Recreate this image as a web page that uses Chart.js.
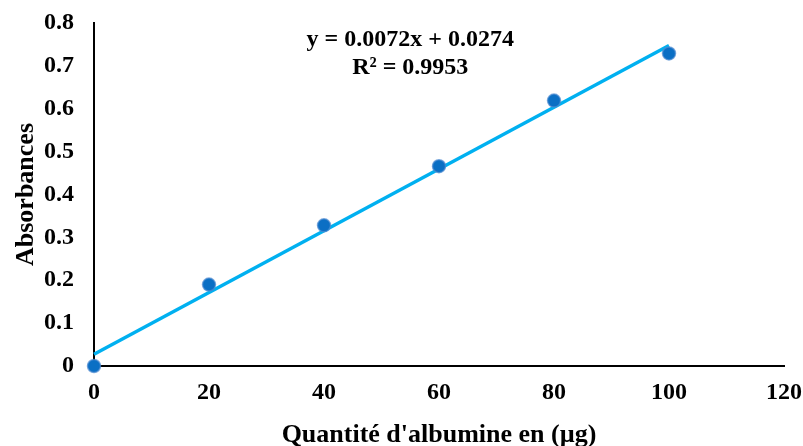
<!DOCTYPE html>
<html>
<head>
<meta charset="utf-8">
<script src="https://cdn.jsdelivr.net/npm/chart.js@4"></script>
<style>
  html, body { margin: 0; padding: 0; background: #fff; }
</style>
</head>
<body>
<canvas id="chart" width="803" height="446"></canvas>
<script>
// values
const quantites = [0, 20, 40, 60, 80, 100]
const absorbances = [0, 0.19, 0.328, 0.466, 0.619, 0.729]

// trendline ends, from the equation printed on the chart
const trend_x = [0, 100]
const trend_y = [0.0274, 0.7474]

const equation_lines = ['y = 0.0072x + 0.0274', 'R² = 0.9953']

const font_family = '"Liberation Serif", "Times New Roman", serif'

const points = quantites.map((q, i) => ({x: q, y: absorbances[i]}))
const trend_points = trend_x.map((q, i) => ({x: q, y: trend_y[i]}))

const equationLabel = {
    id: 'equationLabel',
    afterDraw(chart) {
        const ctx = chart.ctx
        const x = chart.scales.x.getPixelForValue(55)
        const y = chart.scales.y.getPixelForValue(0.76)
        ctx.save()
        ctx.fillStyle = '#000'
        ctx.font = 'bold 24px ' + font_family
        ctx.textAlign = 'center'
        ctx.textBaseline = 'middle'
        ctx.fillText(equation_lines[0], x, y)
        ctx.fillText(equation_lines[1], x, y + 28)
        ctx.restore()
    }
}

new Chart(
    document.getElementById('chart'),
    {
        type: 'scatter',
        data: {
            datasets: [
                {
                    label: 'Trend',
                    data: trend_points,
                    showLine: true,
                    borderColor: '#00B0F0',
                    borderWidth: 3.5,
                    pointRadius: 0,
                    clip: false,
                    order: 2
                },
                {
                    label: 'Absorbances',
                    data: points,
                    backgroundColor: '#0B6FC4',
                    borderColor: 'rgba(80,140,210,0.7)',
                    borderWidth: 1.5,
                    pointRadius: 6.5,
                    clip: false,
                    order: 1
                }
            ]
        },
        options: {
            responsive: false,
            animation: false,
            layout: {
                padding: {top: 23, right: 19, left: 0, bottom: 0}
            },
            plugins: {
                legend: {display: false},
                tooltip: {enabled: false}
            },
            scales: {
                x: {
                    type: 'linear',
                    min: 0,
                    max: 120,
                    afterFit: scale => {
                        scale.height = 80
                        scale.paddingRight = 0
                        scale.paddingLeft = 0
                    },
                    ticks: {
                        stepSize: 20,
                        color: '#000',
                        padding: 12,
                        font: {family: font_family, size: 24, weight: 'bold'}
                    },
                    grid: {display: false, drawTicks: false},
                    border: {display: true, color: '#000', width: 2},
                    title: {
                        display: true,
                        text: "Quantité d'albumine en (µg)",
                        color: '#000',
                        padding: {top: 0, bottom: -2},
                        font: {family: font_family, size: 26, weight: 'bold', lineHeight: 1}
                    }
                },
                y: {
                    min: 0,
                    max: 0.8,
                    afterFit: scale => {
                        scale.width = 94
                        scale.paddingTop = 0
                        scale.paddingBottom = 0
                    },
                    ticks: {
                        stepSize: 0.1,
                        color: '#000',
                        padding: 20,
                        font: {family: font_family, size: 24, weight: 'bold'},
                        callback: v => Math.round(v * 10) / 10
                    },
                    grid: {display: false, drawTicks: false},
                    border: {display: true, color: '#000', width: 2},
                    title: {
                        display: true,
                        text: 'Absorbances',
                        color: '#000',
                        padding: {top: 13, bottom: 0},
                        font: {family: font_family, size: 26, weight: 'bold', lineHeight: 1}
                    }
                }
            }
        },
        plugins: [equationLabel]
    }
)
</script>
</body>
</html>
